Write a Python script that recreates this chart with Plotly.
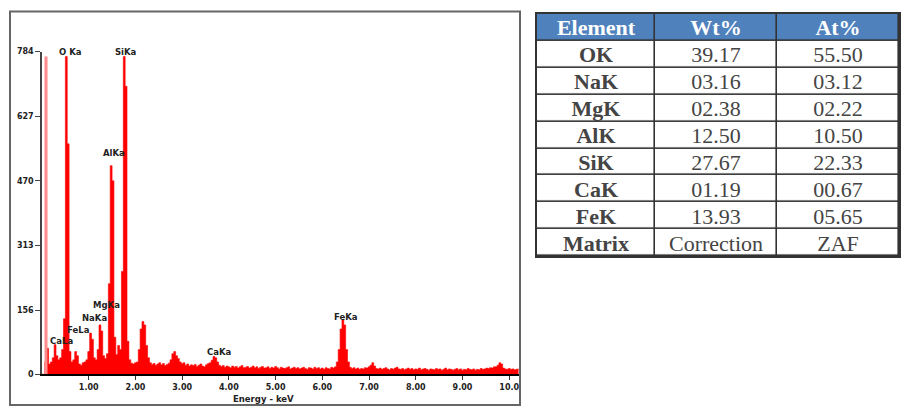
import plotly.graph_objects as go

W, H = 901, 407          # reference picture size (layout is designed in these pixels)
FIG_H = 413              # the page is captured ~1.5% taller than the window, then fitted to 407

# ---------------- data ----------------
channel_width_kev = 0.04
counts = [
    0, 0, 30, 63, 25, 30, 40, 72, 45, 35,
    40, 60, 135, 772, 560, 55, 30, 35, 55, 45,
    25, 22, 28, 30, 35, 55, 100, 85, 40, 35,
    60, 120, 105, 45, 38, 50, 220, 507, 470, 90,
    48, 70, 60, 250, 772, 700, 80, 35, 27, 25,
    28, 30, 60, 110, 128, 120, 70, 40, 28, 24,
    26, 22, 25, 28, 23, 26, 21, 24, 27, 35,
    50, 55, 45, 38, 30, 26, 28, 22, 25, 20,
    23, 21, 24, 19, 22, 25, 20, 18, 23, 26,
    28, 34, 43, 40, 30, 22, 19, 21, 17, 20,
    18, 16, 20, 17, 19, 15, 18, 21, 16, 17,
    19, 15, 17, 20, 16, 18, 14, 17, 19, 15,
    16, 18, 14, 17, 15, 19, 16, 13, 17, 15,
    14, 16, 18, 13, 15, 17, 14, 16, 13, 15,
    17, 14, 12, 16, 15, 13, 17, 14, 16, 13,
    15, 12, 16, 14, 13, 17, 15, 18, 30, 60,
    110, 132, 120, 60, 30, 17, 14, 16, 13, 15,
    12, 14, 13, 16, 15, 18, 22, 28, 20, 14,
    13, 15, 12, 14, 16, 13, 11, 14, 12, 15,
    17, 13, 12, 14, 11, 13, 15, 12, 14, 11,
    13, 12, 15, 11, 13, 14, 12, 10, 13, 12,
    11, 14, 12, 13, 10, 12, 15, 11, 13, 12,
    10, 12, 14, 11, 13, 10, 12, 11, 14, 12,
    11, 13, 10, 12, 11, 14, 12, 13, 15, 14,
    16, 15, 18, 18, 22, 28, 25, 15, 13, 12,
    14, 12, 13, 11, 12, 13,
]
zero_peak_kev = [0.086, 0.086]
zero_peak_counts = [0, 772]

y_ticks = [0, 156, 313, 470, 627, 784]
x_ticks = [1, 2, 3, 4, 5, 6, 7, 8, 9, 10]
x_tick_labels = ["1.00", "2.00", "3.00", "4.00", "5.00", "6.00", "7.00", "8.00", "9.00", "10.0"]

peak_names = ["O Ka", "SiKa", "AlKa", "MgKa", "NaKa", "FeLa", "CaLa", "CaKa", "FeKa"]

table_header = ["Element", "Wt%", "At%"]
elements = ["OK", "NaK", "MgK", "AlK", "SiK", "CaK", "FeK", "Matrix"]
wt_pct = ["39.17", "03.16", "02.38", "12.50", "27.67", "01.19", "13.93", "Correction"]
at_pct = ["55.50", "03.12", "02.22", "10.50", "22.33", "00.67", "05.65", "ZAF"]

# ---------------- helpers ----------------
def px(x):
    return x / W

def py(y):
    return 1 - y / H

fig = go.Figure()

fig.add_trace(go.Scatter(
    x0=0, dx=channel_width_kev, y=counts,
    mode="lines", line=dict(color="#ff0000", width=0.6, shape="hvh"),
    fill="tozeroy", fillcolor="#ff0000", hoverinfo="skip",
))
fig.add_trace(go.Scatter(
    x=zero_peak_kev, y=zero_peak_counts, mode="lines",
    line=dict(color="#ff8c8c", width=3), hoverinfo="skip",
))

label_pos = [(0.60, 784), (1.80, 784), (1.54, 538), (1.39, 169), (1.13, 137),
             (0.79, 108), (0.41, 82), (3.79, 53), (6.51, 140)]
for name, (lx, ly) in zip(peak_names, label_pos):
    fig.add_annotation(x=lx, y=ly, xref="x", yref="y", text=name, showarrow=False,
                       font=dict(family="DejaVu Sans", size=8.5, color="#222", weight="bold"),
                       xanchor="center", yanchor="middle")

fig.add_annotation(x=px(263), y=py(398), xref="paper", yref="paper", text="Energy - keV",
                   showarrow=False, font=dict(family="DejaVu Sans", size=8.5, color="#222", weight="bold"),
                   xanchor="center", yanchor="middle")

# ---------------- table drawn as a heatmap grid ----------------
col_edges = [0, 118, 240, 362]
n_rows = 1 + len(elements)
z = [[1, 1, 1]] + [[0, 0, 0] for _ in elements]
text = [[f"<b>{h}</b>" for h in table_header]] + [
    [f"<b>{e}</b>", w, a] for e, w, a in zip(elements, wt_pct, at_pct)
]
fig.add_trace(go.Heatmap(
    x=col_edges, y=list(range(n_rows)), z=z, text=text, texttemplate="%{text}",
    textfont=dict(family="Liberation Serif", size=22),
    colorscale=[[0, "#ffffff"], [1, "#4f81bd"]], zmin=0, zmax=1, showscale=False,
    xgap=1.6, ygap=1.6, hoverinfo="skip", xaxis="x2", yaxis="y2",
))

axis_font = dict(family="DejaVu Sans", size=8, color="#222", weight="bold")
fig.update_layout(
    width=W, height=FIG_H, margin=dict(l=0, r=0, t=0, b=0),
    paper_bgcolor="white", plot_bgcolor="white", showlegend=False,
    xaxis=dict(domain=[px(42), px(519)], range=[0, 10.21], tickvals=x_ticks, ticktext=x_tick_labels,
               ticks="outside", ticklen=4, tickcolor="#333", showline=True, linecolor="black",
               linewidth=2, showgrid=False, zeroline=False, tickfont=axis_font),
    yaxis=dict(domain=[py(373), py(48)], range=[0, 784], tickvals=y_ticks,
               ticks="outside", ticklen=5, tickcolor="#444", showline=True, linecolor="#444",
               linewidth=1.5, showgrid=False, zeroline=False, tickfont=axis_font),
    xaxis2=dict(domain=[px(537), px(899)], range=[0, 362], anchor="y2", visible=True,
                showticklabels=False, ticks="", showgrid=False, zeroline=False,
                showline=True, mirror=True, linecolor="#333", linewidth=1.6),
    yaxis2=dict(domain=[py(254), py(10)], range=[n_rows - 0.5, -0.5], anchor="x2",
                showticklabels=False, ticks="", showgrid=False, zeroline=False,
                showline=True, mirror=True, linecolor="#333", linewidth=1.6),
    shapes=[
        dict(type="rect", xref="paper", yref="paper", x0=px(10), x1=px(520),
             y0=py(404), y1=py(7.5), line=dict(color="#666666", width=2)),
        dict(type="rect", xref="x2", yref="y2", x0=0, x1=362, y0=-0.5, y1=n_rows - 0.5,
             fillcolor="#333333", line=dict(width=0), layer="below"),
    ],
)

fig.write_html("out.html", config={"displayModeBar": False},
               post_script="document.body.style.margin='0';document.body.style.overflow='hidden';")
